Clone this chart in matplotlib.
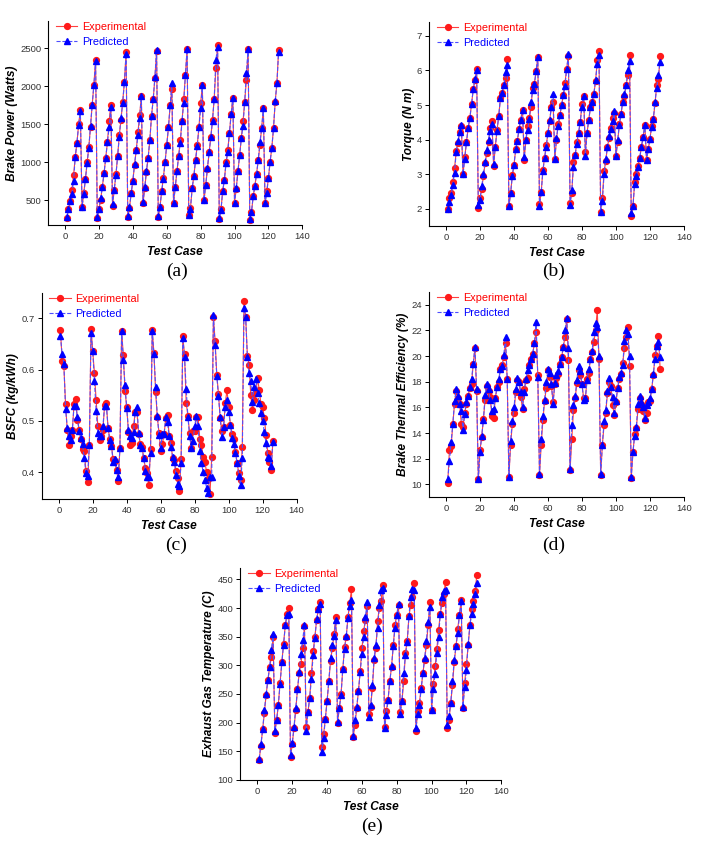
import matplotlib

matplotlib.use("Agg")
import matplotlib.pyplot as plt
import numpy as np

# --- data (test cases 1..126) -------------------------------------------
test_case = np.arange(1, 127)

power_exp = [270, 380, 490, 640, 830, 1070, 1260, 1500, 1690,
             410, 590, 780, 1000, 1200, 1470, 1760, 2020, 2350,
             270, 380, 510, 680, 860, 1060, 1270, 1550, 1760,
             430, 640, 840, 1080, 1360, 1560, 1800, 2060, 2450,
             280, 400, 590, 760, 970, 1160, 1400, 1620, 1880,
             460, 660, 870, 1060, 1290, 1610, 1830, 2110, 2470,
             280, 410, 620, 800, 1000, 1230, 1460, 1750, 1970,
             460, 670, 880, 1080, 1300, 1540, 1830, 2150, 2490,
             300, 400, 660, 820, 1030, 1230, 1460, 1780, 2020,
             500, 700, 910, 1130, 1330, 1560, 1840, 2240, 2540,
             260, 380, 620, 770, 1000, 1160, 1390, 1640, 1850,
             470, 650, 880, 1090, 1320, 1540, 1800, 2090, 2490,
             240, 340, 550, 690, 850, 1030, 1230, 1450, 1710,
             460, 620, 790, 1010, 1190, 1450, 1800, 2040, 2480]
power_pred = [280, 380, 490, 580, 760, 1070, 1260, 1490, 1680,
              410, 580, 780, 990, 1190, 1480, 1760, 2020, 2330,
              280, 390, 530, 680, 860, 1060, 1270, 1460, 1730,
              450, 640, 830, 1080, 1340, 1590, 1780, 2060, 2430,
              290, 410, 590, 760, 980, 1160, 1360, 1580, 1880,
              480, 670, 890, 1060, 1290, 1610, 1830, 2120, 2480,
              290, 410, 620, 780, 1010, 1230, 1460, 1750, 2050,
              460, 670, 880, 1080, 1260, 1540, 1780, 2150, 2490,
              310, 390, 660, 820, 1030, 1220, 1460, 1710, 2020,
              500, 700, 930, 1130, 1330, 1550, 1840, 2350, 2520,
              270, 370, 620, 770, 990, 1140, 1390, 1630, 1850,
              470, 660, 880, 1090, 1320, 1480, 1800, 2180, 2490,
              250, 350, 550, 690, 850, 1030, 1270, 1450, 1710,
              460, 600, 790, 1010, 1190, 1450, 1810, 2040, 2450]

torque_exp = [2.00, 2.30, 2.47, 2.77, 3.17, 3.67, 3.90, 4.22, 4.38,
              3.00, 3.50, 3.92, 4.33, 4.62, 5.02, 5.45, 5.72, 6.05,
              2.03, 2.32, 2.58, 2.95, 3.32, 3.62, 3.93, 4.35, 4.55,
              3.25, 3.80, 4.27, 4.68, 5.20, 5.35, 5.57, 5.78, 6.33,
              2.08, 2.45, 2.97, 3.28, 3.72, 3.97, 4.32, 4.58, 4.87,
              3.42, 4.00, 4.40, 4.62, 4.93, 5.50, 5.62, 5.98, 6.38,
              2.13, 2.48, 3.13, 3.48, 3.85, 4.20, 4.55, 4.95, 5.08,
              3.43, 4.00, 4.45, 4.70, 5.00, 5.28, 5.65, 6.05, 6.42,
              2.18, 2.47, 3.35, 3.57, 3.93, 4.20, 4.52, 5.02, 5.25,
              3.65, 4.20, 4.58, 4.93, 5.08, 5.33, 5.68, 6.30, 6.57,
              1.92, 2.32, 3.08, 3.38, 3.80, 4.05, 4.35, 4.63, 4.78,
              3.52, 3.93, 4.45, 4.75, 5.10, 5.27, 5.57, 5.87, 6.45,
              1.80, 2.07, 2.77, 3.00, 3.25, 3.48, 3.80, 4.08, 4.43,
              3.42, 3.72, 4.02, 4.40, 4.60, 5.05, 5.58, 5.75, 6.42]
torque_pred = [2.00, 2.20, 2.40, 2.70, 3.05, 3.65, 3.95, 4.22, 4.42,
               3.00, 3.45, 3.92, 4.33, 4.62, 5.02, 5.45, 5.75, 6.00,
               2.10, 2.25, 2.65, 3.00, 3.35, 3.70, 4.00, 4.25, 4.45,
               3.30, 3.80, 4.25, 4.68, 5.20, 5.35, 5.57, 5.95, 6.15,
               2.08, 2.45, 2.95, 3.28, 3.72, 3.97, 4.32, 4.58, 4.87,
               3.50, 4.00, 4.28, 4.60, 5.10, 5.42, 5.60, 5.98, 6.40,
               2.08, 2.48, 3.08, 3.48, 3.80, 4.20, 4.57, 4.95, 5.32,
               3.43, 4.05, 4.40, 4.70, 5.00, 5.28, 5.55, 6.05, 6.47,
               2.12, 2.55, 3.20, 3.57, 3.87, 4.20, 4.52, 4.95, 5.25,
               3.52, 4.20, 4.58, 4.93, 5.08, 5.33, 5.73, 6.18, 6.45,
               1.92, 2.22, 3.00, 3.45, 3.80, 4.10, 4.32, 4.55, 4.83,
               3.52, 4.00, 4.42, 4.75, 5.10, 5.32, 5.57, 6.00, 6.27,
               1.88, 2.07, 2.72, 2.95, 3.20, 3.48, 3.80, 4.08, 4.43,
               3.42, 3.72, 4.02, 4.37, 4.60, 5.10, 5.50, 5.87, 6.25]

bsfc_exp = [0.677, 0.617, 0.607, 0.533, 0.482, 0.453, 0.470, 0.483, 0.533,
            0.542, 0.502, 0.482, 0.465, 0.446, 0.442, 0.403, 0.380, 0.453,
            0.680, 0.636, 0.593, 0.540, 0.490, 0.462, 0.470, 0.483, 0.532,
            0.535, 0.487, 0.465, 0.452, 0.425, 0.422, 0.405, 0.383, 0.447,
            0.675, 0.628, 0.558, 0.527, 0.478, 0.453, 0.457, 0.490, 0.517,
            0.517, 0.475, 0.455, 0.450, 0.427, 0.408, 0.398, 0.375, 0.445,
            0.677, 0.633, 0.557, 0.507, 0.477, 0.442, 0.455, 0.475, 0.505,
            0.512, 0.470, 0.457, 0.428, 0.423, 0.403, 0.388, 0.363, 0.425,
            0.665, 0.630, 0.535, 0.510, 0.477, 0.447, 0.480, 0.480, 0.507,
            0.507, 0.465, 0.453, 0.430, 0.420, 0.400, 0.386, 0.357, 0.430,
            0.703, 0.657, 0.590, 0.553, 0.505, 0.480, 0.488, 0.535, 0.560,
            0.527, 0.493, 0.475, 0.465, 0.440, 0.417, 0.398, 0.385, 0.450,
            0.735, 0.703, 0.627, 0.610, 0.550, 0.522, 0.540, 0.557, 0.583,
            0.560, 0.533, 0.528, 0.505, 0.472, 0.437, 0.420, 0.405, 0.460]
bsfc_pred = [0.665, 0.630, 0.612, 0.523, 0.487, 0.470, 0.462, 0.483, 0.530,
             0.530, 0.507, 0.480, 0.467, 0.455, 0.427, 0.398, 0.392, 0.453,
             0.672, 0.636, 0.578, 0.520, 0.477, 0.470, 0.470, 0.490, 0.530,
             0.530, 0.487, 0.462, 0.452, 0.420, 0.425, 0.405, 0.390, 0.447,
             0.675, 0.618, 0.570, 0.525, 0.483, 0.470, 0.467, 0.478, 0.518,
             0.528, 0.477, 0.453, 0.447, 0.427, 0.403, 0.390, 0.390, 0.437,
             0.675, 0.630, 0.567, 0.510, 0.472, 0.447, 0.475, 0.475, 0.508,
             0.497, 0.470, 0.450, 0.430, 0.420, 0.395, 0.377, 0.373, 0.418,
             0.662, 0.625, 0.562, 0.508, 0.470, 0.447, 0.460, 0.490, 0.510,
             0.490, 0.442, 0.417, 0.400, 0.385, 0.370, 0.360, 0.390, 0.390,
             0.707, 0.648, 0.588, 0.548, 0.507, 0.468, 0.488, 0.527, 0.540,
             0.518, 0.493, 0.467, 0.455, 0.437, 0.417, 0.392, 0.375, 0.427,
             0.720, 0.702, 0.625, 0.593, 0.577, 0.537, 0.567, 0.582, 0.555,
             0.535, 0.515, 0.500, 0.478, 0.457, 0.430, 0.427, 0.412, 0.458]

bte_exp = [10.1, 12.7, 13.0, 14.7, 16.3, 17.3, 16.7, 16.3, 14.7,
           14.5, 15.6, 16.3, 16.9, 17.5, 17.8, 19.4, 20.6, 17.3,
           10.4, 12.7, 13.7, 15.1, 16.6, 17.7, 17.3, 16.8, 15.3,
           15.2, 16.7, 17.6, 18.0, 19.0, 19.3, 19.9, 21.0, 18.2,
           10.6, 13.1, 14.7, 15.6, 17.2, 18.1, 18.0, 16.8, 15.9,
           17.4, 18.1, 18.3, 19.3, 19.8, 20.2, 21.0, 21.9, 18.5,
           10.7, 13.1, 15.0, 16.5, 17.5, 18.9, 18.4, 17.7, 16.4,
           17.8, 18.3, 18.6, 19.4, 19.9, 20.7, 21.5, 22.9, 19.7,
           11.1, 13.5, 15.8, 16.7, 17.9, 18.9, 18.5, 17.8, 16.7,
           16.7, 18.2, 18.7, 19.8, 20.3, 21.1, 22.0, 23.6, 19.8,
           10.7, 13.1, 14.6, 15.6, 17.1, 18.0, 17.7, 16.2, 15.4,
           16.4, 17.5, 18.2, 18.6, 19.5, 20.6, 21.5, 22.3, 19.2,
           10.5, 12.5, 13.9, 14.4, 15.9, 16.7, 16.3, 15.7, 15.0,
           15.6, 16.4, 16.5, 17.4, 18.5, 20.1, 20.8, 21.6, 19.0]
bte_pred = [10.4, 11.8, 13.3, 14.7, 16.5, 17.4, 16.9, 16.3, 15.7,
            14.2, 15.5, 16.4, 16.9, 17.6, 18.2, 19.4, 20.7, 17.4,
            10.4, 12.5, 13.8, 15.0, 17.0, 17.8, 17.4, 16.6, 15.7,
            15.9, 16.7, 17.6, 18.2, 19.0, 19.2, 20.1, 21.5, 18.2,
            10.6, 13.4, 14.9, 16.0, 17.4, 18.3, 18.0, 17.2, 16.0,
            17.2, 18.2, 18.9, 19.3, 19.8, 20.2, 21.0, 22.7, 18.4,
            10.8, 13.5, 15.3, 16.6, 18.0, 19.0, 18.7, 17.8, 16.3,
            17.9, 18.5, 18.8, 19.4, 19.9, 20.7, 22.0, 23.0, 20.6,
            11.2, 14.6, 16.2, 16.9, 18.1, 19.2, 18.8, 17.8, 16.6,
            16.7, 18.1, 19.0, 19.8, 20.4, 21.9, 22.6, 22.3, 20.0,
            10.8, 13.1, 14.9, 15.8, 17.3, 18.3, 17.6, 16.8, 15.6,
            16.5, 17.5, 18.4, 18.7, 19.3, 21.2, 22.0, 21.7, 20.0,
            10.6, 12.5, 13.8, 14.5, 16.3, 16.9, 16.4, 16.0, 15.2,
            16.2, 16.4, 16.7, 17.4, 18.6, 19.8, 20.8, 21.1, 19.9]

egt_exp = [135, 160, 188, 217, 249, 274, 297, 315, 350,
           182, 204, 231, 270, 305, 338, 370, 390, 400,
           140, 163, 190, 222, 258, 287, 303, 330, 368,
           193, 218, 243, 286, 325, 350, 380, 398, 410,
           158, 180, 207, 238, 272, 308, 330, 355, 385,
           200, 225, 250, 293, 332, 350, 385, 409, 433,
           175, 196, 225, 255, 290, 330, 360, 380, 403,
           215, 228, 260, 310, 330, 378, 400, 413, 440,
           193, 220, 240, 273, 297, 335, 371, 388, 405,
           218, 238, 272, 322, 343, 386, 405, 420, 443,
           185, 220, 235, 260, 286, 310, 335, 370, 410,
           222, 267, 298, 328, 362, 390, 409, 425, 445,
           190, 205, 235, 265, 306, 333, 364, 388, 415,
           225, 270, 302, 335, 370, 398, 413, 430, 458]
egt_pred = [137, 162, 188, 222, 250, 274, 297, 326, 355,
            186, 204, 231, 267, 305, 335, 370, 388, 390,
            144, 164, 193, 225, 258, 288, 320, 345, 370,
            185, 218, 243, 276, 318, 348, 381, 398, 408,
            148, 173, 207, 238, 273, 313, 335, 352, 380,
            201, 225, 248, 293, 328, 352, 383, 404, 415,
            177, 205, 228, 255, 288, 320, 350, 384, 410,
            210, 230, 265, 313, 335, 365, 405, 432, 435,
            190, 213, 240, 272, 298, 334, 366, 388, 408,
            215, 238, 287, 318, 340, 386, 420, 433, 432,
            190, 215, 230, 258, 287, 312, 343, 375, 402,
            222, 258, 285, 322, 350, 390, 420, 430, 432,
            195, 211, 235, 272, 310, 333, 356, 388, 412,
            228, 262, 292, 338, 370, 390, 408, 425, 443]

# (exp, pred, axes rect [l, b, w, h], ylabel, ylim, yticks, tag, tag centre)
PANELS = [
    (power_exp, power_pred, [0.068, 0.733, 0.359, 0.242], "Brake Power (Watts)",
     (170, 2860), [500, 1000, 1500, 2000, 2500], "(a)", (0.25, 0.678)),
    (torque_exp, torque_pred, [0.606, 0.732, 0.360, 0.242], "Torque (N m)",
     (1.5, 7.4), [2, 3, 4, 5, 6, 7], "(b)", (0.782, 0.678)),
    (bsfc_exp, bsfc_pred, [0.059, 0.409, 0.360, 0.244], "BSFC (kg/kWh)",
     (0.348, 0.75), [0.4, 0.5, 0.6, 0.7], "(c)", (0.249, 0.354)),
    (bte_exp, bte_pred, [0.606, 0.411, 0.360, 0.243], "Brake Thermal Efficiency (%)",
     (9, 25), [10, 12, 14, 16, 18, 20, 22, 24], "(d)", (0.782, 0.354)),
    (egt_exp, egt_pred, [0.339, 0.076, 0.369, 0.251], "Exhaust Gas Temperature (C)",
     (100, 470), [100, 150, 200, 250, 300, 350, 400, 450], "(e)", (0.525, 0.021)),
]

SANS = "Liberation Sans"


def draw_panel(fig, exp, pred, rect, ylabel, ylim, yticks):
    ax = fig.add_axes(rect)
    ax.plot(test_case, exp, "-o", color="#ff4040", lw=0.8, ms=4.2,
            mfc="#ff1a1a", mec="#ff1a1a", label="Experimental")
    ax.plot(test_case, pred, "--^", color="#4d4dff", lw=0.8, ms=4.3,
            mfc="#0000ff", mec="#0000ff", label="Predicted")
    ax.set_xlim(-10, 140)
    ax.set_xticks(range(0, 141, 20))
    ax.set_ylim(*ylim)
    ax.set_yticks(yticks)
    for side in ("top", "right"):
        ax.spines[side].set_visible(False)
    for side in ("left", "bottom"):
        ax.spines[side].set_linewidth(0.8)
    ax.tick_params(direction="out", length=3, width=0.7, labelsize=6.8,
                   labelcolor="#333333", pad=2)
    for lab in ax.get_xticklabels() + ax.get_yticklabels():
        lab.set_fontfamily(SANS)
    ax.set_xlabel("Test Case", fontsize=8.6, fontweight="bold", style="italic",
                  family=SANS, labelpad=3.5)
    ax.set_ylabel(ylabel, fontsize=8.6, fontweight="bold", style="italic",
                  family=SANS, labelpad=1.5)
    leg = ax.legend(loc="upper left", bbox_to_anchor=(0.03, 0.995), frameon=False,
                    handlelength=2.0, handletextpad=0.4,
                    borderaxespad=0, borderpad=0, labelspacing=0.45,
                    prop={"family": SANS, "size": 7.8})
    leg.get_texts()[0].set_color("#ff0000")
    leg.get_texts()[1].set_color("#0000ff")
    return ax


def main() -> None:
    fig = plt.figure(figsize=(7.08, 8.44), dpi=100)
    for exp, pred, rect, ylabel, ylim, yticks, tag, tag_xy in PANELS:
        draw_panel(fig, exp, pred, rect, ylabel, ylim, yticks)
        fig.text(tag_xy[0], tag_xy[1], tag, ha="center", va="center",
                 fontsize=14, family="Liberation Serif")
    fig.savefig("out.png", dpi=100)
    plt.close(fig)


if __name__ == "__main__":
    main()
